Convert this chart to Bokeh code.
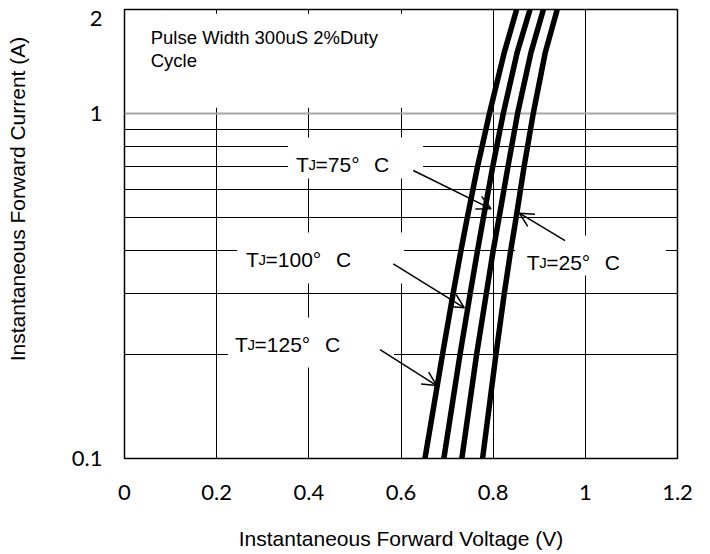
from bokeh.plotting import figure
from bokeh.models import (Range1d, FixedTicker, Grid, Arrow, OpenHead,
                          ColumnDataSource)
from bokeh.embed import file_html
from bokeh.resources import INLINE
from bokeh.core.properties import value

# ---------------- data ----------------
current_a = [0.1, 0.2, 0.3, 0.4, 0.5, 0.7, 1.0, 1.5, 2.0]
v_125c = [0.652, 0.690, 0.713, 0.730, 0.744, 0.766, 0.792, 0.824, 0.851]
v_100c = [0.693, 0.728, 0.750, 0.766, 0.779, 0.799, 0.822, 0.852, 0.880]
v_75c = [0.732, 0.764, 0.785, 0.800, 0.813, 0.832, 0.853, 0.882, 0.909]
v_25c = [0.777, 0.806, 0.824, 0.838, 0.850, 0.867, 0.887, 0.913, 0.939]

x_ticks = [0, 0.2, 0.4, 0.6, 0.8, 1.0, 1.2]
x_tick_labels = ["0", "0.2", "0.4", "0.6", "0.8", "1", "1.2"]
y_ticks = [0.1, 1, 2]
y_tick_labels = ["0.1", "1", "2"]
x_grid = [0.2, 0.4, 0.6, 0.8, 1.0]
y_grid = [0.2, 0.3, 0.4, 0.5, 0.6, 0.7, 0.8, 0.9]
y_grid_major = [1]

temps = ["75", "100", "125", "25"]
note_lines = ["Pulse Width 300uS 2%Duty", "Cycle"]
x_title = "Instantaneous Forward Voltage (V)"
y_title = "Instantaneous Forward Current (A)"

# ---------------- annotation layout ----------------
# the reference keeps its top tick label ("2") just inside the top edge
y_label_pos = [0.1, 1, 1.88]
# the reference's y title sits above the frame centre: pad its start
y_title_pad = "\u00a0" * 12
lab_x = [0.3722, 0.2637, 0.2398, 0.8728]
lab_y = [0.7097, 0.3765, 0.2140, 0.3705]
c_off = [78, 90, 90, 78]
box_l = [0.3548, 0.2441, 0.2246, 0.8472, 0.03]
box_r = [0.6480, 0.6066, 0.5848, 1.1749, 0.62]
box_t = [0.8514, 0.4517, 0.2562, 0.4427, 1.943]
box_b = [0.6477, 0.3214, 0.1836, 0.3391, 1.038]
arr_x0 = [0.6267, 0.9560, 0.5833, 0.5545]
arr_y0 = [0.6830, 0.4280, 0.3666, 0.2069]
arr_x1 = [0.7954, 0.8568, 0.7374, 0.6775]
arr_y1 = [0.5290, 0.5140, 0.2733, 0.1627]
note_x = [0.0569, 0.0569]
note_y = [1.656, 1.423]

p = figure(frame_width=553, frame_height=449,
           x_range=Range1d(0, 1.2), y_range=Range1d(0.1, 2),
           y_axis_type="log", output_backend="svg", toolbar_location=None,
           min_border_left=124, min_border_right=25, min_border_top=9,
           min_border_bottom=86, background_fill_color="white",
           border_fill_color="white")

p.outline_line_color = "black"
p.outline_line_width = 1.5

# grids
p.xgrid.ticker = FixedTicker(ticks=x_grid)
p.xgrid.grid_line_color = "black"
p.xgrid.grid_line_width = 1
p.ygrid.ticker = FixedTicker(ticks=y_grid)
p.ygrid.grid_line_color = "black"
p.ygrid.grid_line_width = 1
g1 = Grid(dimension=1, ticker=FixedTicker(ticks=y_grid_major),
          grid_line_color="#a6a6a6", grid_line_width=2)
p.add_layout(g1)

# axes
tick_font = "Lato"
p.xaxis.ticker = FixedTicker(ticks=x_ticks)
p.xaxis.major_label_overrides = {t: l for t, l in zip(x_ticks, x_tick_labels)}
p.yaxis.ticker = FixedTicker(ticks=y_label_pos)
p.yaxis.major_label_overrides = {t: l for t, l in zip(y_label_pos, y_tick_labels)}
for ax in (p.xaxis[0], p.yaxis[0]):
    ax.axis_line_color = None
    ax.major_tick_line_color = None
    ax.minor_tick_line_color = None
    ax.major_tick_out = 0
    ax.major_tick_in = 0
    ax.major_label_text_font = tick_font
    ax.major_label_text_font_size = "22px"
    ax.major_label_text_color = "black"
    ax.axis_label_text_font = "Liberation Sans"
    ax.axis_label_text_font_size = "21px"
    ax.axis_label_text_font_style = "normal"
    ax.axis_label_text_color = "black"
p.xaxis.axis_label = x_title
p.xaxis.major_label_standoff = 26
p.xaxis.axis_label_standoff = 24
p.yaxis.axis_label = y_title_pad + y_title
p.yaxis.major_label_standoff = 22
p.yaxis.axis_label_standoff = 40

# white boxes behind the annotations
p.quad(left=box_l, right=box_r, top=box_t, bottom=box_b,
       fill_color="white", line_color=None)

# curves
for v in (v_125c, v_100c, v_75c, v_25c):
    p.line(v, current_a, line_color="black", line_width=5.5,
           line_join="round")

# temperature labels (T + subscript J + rest)
src = ColumnDataSource(dict(x=lab_x, y=lab_y,
                            rest=["=" + t + "°" for t in temps],
                            c_off=c_off))
common = dict(x="x", y="y", source=src, text_color="black",
              text_baseline="alphabetic", text_align="left",
              text_font=value("Liberation Sans"))
p.text(text=value("T"), text_font_size="21px", **common)
p.text(text=value("J"), text_font_size="15px", x_offset=12.5, **common)
p.text(text="rest", text_font_size="21px", x_offset=19.5, **common)
p.text(text=value("C"), text_font_size="21px", x_offset="c_off", **common)

# note text
p.text(x=note_x, y=note_y, text=note_lines, text_font=value("Liberation Sans"),
       text_font_size="18.5px", text_color="black", text_baseline="alphabetic")

# arrows
asrc = ColumnDataSource(dict(x0=arr_x0, y0=arr_y0, x1=arr_x1, y1=arr_y1))
p.add_layout(Arrow(source=asrc, x_start="x0", y_start="y0", x_end="x1",
                   y_end="y1", line_width=1.5, line_color="black",
                   end=OpenHead(size=14, line_width=1.5, line_color="black")))

open("out.html", "w").write(file_html(p, INLINE))
